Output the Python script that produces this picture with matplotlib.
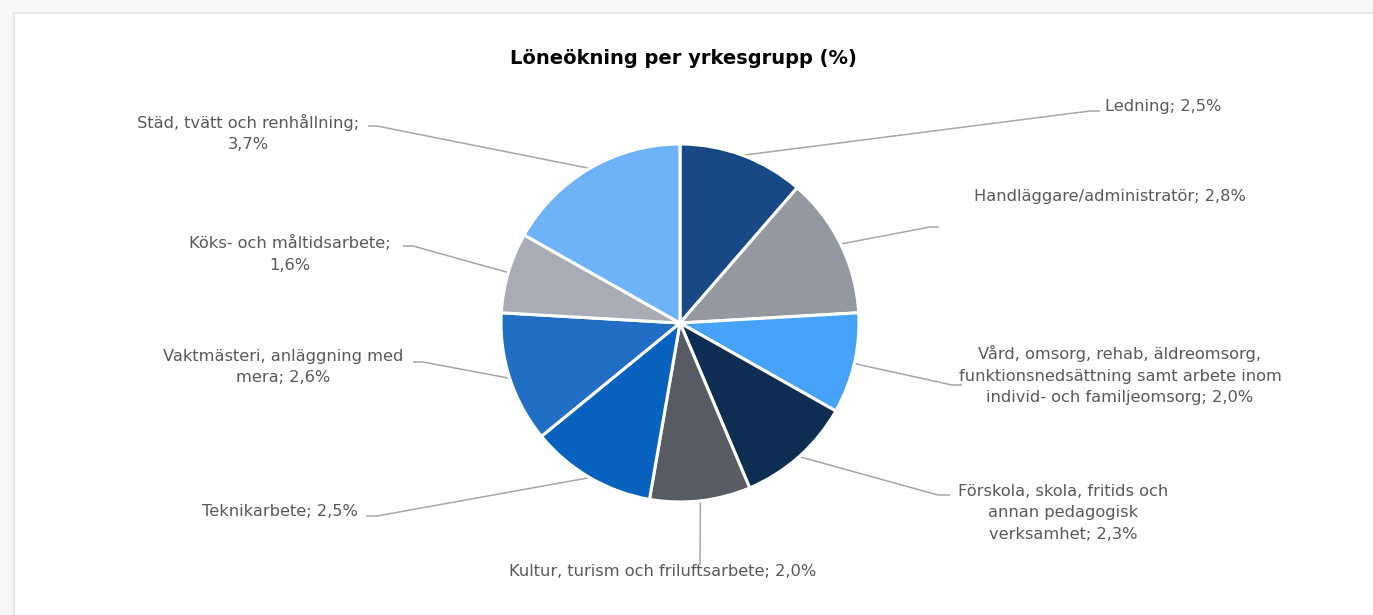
import matplotlib.pyplot as plt
from matplotlib.patches import Rectangle
import numpy as np

# data
categories = ['Ledning', 'Handläggare/administratör',
              'Vård, omsorg, rehab, äldreomsorg,\nfunktionsnedsättning samt arbete inom\nindivid- och familjeomsorg',
              'Förskola, skola, fritids och\nannan pedagogisk\nverksamhet',
              'Kultur, turism och friluftsarbete', 'Teknikarbete',
              'Vaktmästeri, anläggning med\nmera', 'Köks- och måltidsarbete',
              'Städ, tvätt och renhållning']
values = [2.5, 2.8, 2.0, 2.3, 2.0, 2.5, 2.6, 1.6, 3.7]
separators = ['; ', '; ', '; ', '; ', '; ', '; ', '; ', ';\n', ';\n']
colors = ['#174A85', '#9499A1', '#47A2FA', '#0E2D52', '#565B64',
          '#0761BD', '#216EC4', '#A9ACB4', '#6EB3F8']
title = 'Löneökning per yrkesgrupp (%)'

W, H = 1373, 615
plt.rcParams['font.family'] = ['DejaVu Sans']

fig = plt.figure(figsize=(W / 100, H / 100), dpi=100, facecolor='#f7f7f7')
ax = fig.add_axes([0, 0, 1, 1])
ax.set_xlim(0, W)
ax.set_ylim(0, H)
ax.axis('off')

def Y(y):
    return H - y

# card with a soft shadow
for i, a in enumerate([0.015, 0.025, 0.04]):
    ax.add_patch(Rectangle((12 + i, -10), W, Y(11 + i) + 10, facecolor='#000000',
                           alpha=a, edgecolor='none', zorder=0))
ax.add_patch(Rectangle((15, -10), W, Y(14) + 10, facecolor='white',
                       edgecolor='none', zorder=1))

cx, cy, R = 680, 323, 179
wedges, _ = ax.pie(values, colors=colors, startangle=90, counterclock=False,
                   center=(cx, Y(cy)), radius=R, frame=True,
                   wedgeprops=dict(edgecolor='white', linewidth=2.2))
for w in wedges:
    w.set_zorder(3)
ax.set_xlim(0, W)
ax.set_ylim(0, H)
ax.set_aspect('equal')
ax.axis('off')

# label layout: elbow point, end of short horizontal, text anchor, alignment
layout = [
    ((1090, 111), (1100, 111), (1105, 107), 'left'),
    ((930, 227), (939, 227), (1110, 197), 'center'),
    ((952, 385), (962, 385), (1120, 375), 'center'),
    ((938, 495), (950, 495), (1063, 513), 'center'),
    ((700, 565), (700, 565), (663, 571), 'center'),
    ((377, 516), (366, 516), (358, 512), 'right'),
    ((423, 362), (413, 362), (283, 367), 'center'),
    ((413, 246), (403, 246), (290, 254), 'center'),
    ((377, 126), (368, 126), (248, 133), 'center'),
]

line_col = '#A6A6A6'
for w, cat, val, sep, (elbow, end, txt, ha) in zip(wedges, categories, values,
                                                   separators, layout):
    mid = np.deg2rad((w.theta1 + w.theta2) / 2)
    x0 = cx + R * np.cos(mid)
    y0 = Y(cy) + R * np.sin(mid)
    ax.plot([x0, elbow[0], end[0]], [y0, Y(elbow[1]), Y(end[1])],
            color=line_col, lw=1.1, zorder=2, solid_capstyle='butt')
    label = f'{cat}{sep}{val:.1f}%'.replace('.', ',')
    ax.text(txt[0], Y(txt[1]), label, ha=ha, va='center', multialignment='center',
            fontsize=11.7, color='#595959', zorder=4, linespacing=1.55)

ax.text(683, Y(58), title, ha='center', va='center', fontsize=14,
        fontweight='bold', color='black', zorder=4)

fig.savefig('out.png', dpi=100, facecolor=fig.get_facecolor())
